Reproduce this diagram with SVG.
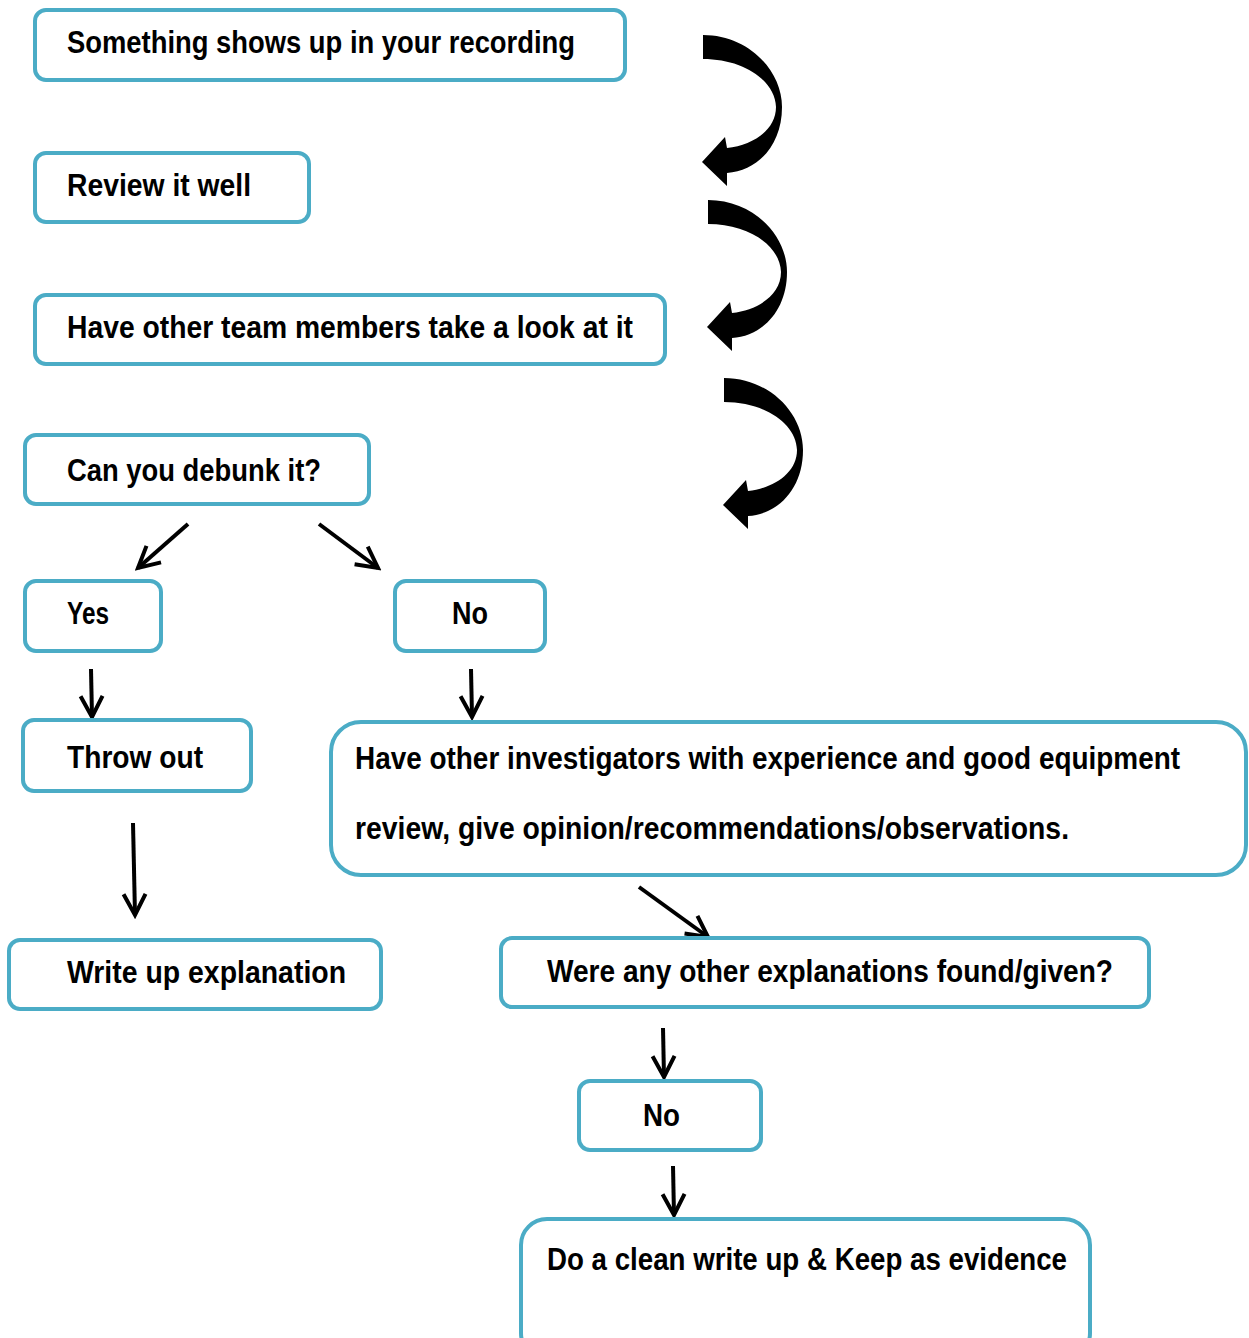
<svg xmlns="http://www.w3.org/2000/svg" width="1249" height="1338" viewBox="0 0 1249 1338">
<style>
.box{fill:#fff;stroke:#4BACC6;stroke-width:4}
.t{font-family:"Liberation Sans Narrow","Liberation Sans",Arial,sans-serif;font-weight:bold;font-size:32px;fill:#000}
.ln{stroke:#000;stroke-width:4;fill:none;marker-end:url(#ah)}
.curve{fill:#000}
</style>
<defs>
<marker id="ah" viewBox="-28 -16 32 32" refX="0" refY="0" markerWidth="32" markerHeight="32" markerUnits="userSpaceOnUse" orient="auto">
<path d="M -21 -11 L 0 0 L -21 11" fill="none" stroke="#000" stroke-width="4"/>
</marker>
<path id="carrow" d="M 0 0 C 45 0 79 35 79 72 C 79 110 55 136 24 138 L 24 151 L -1 127 L 22 102 L 24 113 C 50 110 73 95 73 72 C 72 45 40 24 0 24 Z"/>
</defs>
<rect width="1249" height="1338" fill="#fff"/>

<g id="connectors">
<use href="#carrow" class="curve" x="703" y="35"/>
<use href="#carrow" class="curve" x="708" y="200"/>
<use href="#carrow" class="curve" x="724" y="378"/>
<line class="ln" x1="188" y1="524" x2="138" y2="568"/>
<line class="ln" x1="319" y1="524" x2="378" y2="568"/>
<line class="ln" x1="91" y1="669" x2="92" y2="717"/>
<line class="ln" x1="471" y1="669" x2="472" y2="717"/>
<line class="ln" x1="133" y1="823" x2="135" y2="915"/>
<line class="ln" x1="639" y1="887" x2="708" y2="937"/>
<line class="ln" x1="663" y1="1028" x2="664" y2="1077"/>
<line class="ln" x1="673" y1="1166" x2="674" y2="1215"/>
</g>

<g id="n1"><rect class="box" x="35" y="10" width="590" height="70" rx="11"/>
<text class="t" x="67" y="53" textLength="508" lengthAdjust="spacingAndGlyphs">Something shows up in your recording</text></g>
<g id="n2"><rect class="box" x="35" y="153" width="274" height="69" rx="11"/>
<text class="t" x="67" y="196" textLength="184" lengthAdjust="spacingAndGlyphs">Review it well</text></g>
<g id="n3"><rect class="box" x="35" y="295" width="630" height="69" rx="11"/>
<text class="t" x="67" y="338" textLength="566" lengthAdjust="spacingAndGlyphs">Have other team members take a look at it</text></g>
<g id="n4"><rect class="box" x="25" y="435" width="344" height="69" rx="11"/>
<text class="t" x="67" y="481" textLength="254" lengthAdjust="spacingAndGlyphs">Can you debunk it?</text></g>
<g id="n5"><rect class="box" x="25" y="581" width="136" height="70" rx="11"/>
<text class="t" x="67" y="624" textLength="42" lengthAdjust="spacingAndGlyphs">Yes</text></g>
<g id="n6"><rect class="box" x="395" y="581" width="150" height="70" rx="11"/>
<text class="t" x="452" y="624" textLength="36" lengthAdjust="spacingAndGlyphs">No</text></g>
<g id="n7"><rect class="box" x="23" y="720" width="228" height="71" rx="11"/>
<text class="t" x="67" y="768" textLength="136" lengthAdjust="spacingAndGlyphs">Throw out</text></g>
<g id="n8"><rect class="box" x="331" y="722" width="915" height="153" rx="30"/>
<text class="t" x="355" y="769" textLength="825" lengthAdjust="spacingAndGlyphs">Have other investigators with experience and good equipment</text>
<text class="t" x="355" y="839" textLength="714" lengthAdjust="spacingAndGlyphs">review, give opinion/recommendations/observations.</text></g>
<g id="n9"><rect class="box" x="9" y="940" width="372" height="69" rx="11"/>
<text class="t" x="67" y="983" textLength="279" lengthAdjust="spacingAndGlyphs">Write up explanation</text></g>
<g id="n10"><rect class="box" x="501" y="938" width="648" height="69" rx="11"/>
<text class="t" x="547" y="982" textLength="566" lengthAdjust="spacingAndGlyphs">Were any other explanations found/given?</text></g>
<g id="n11"><rect class="box" x="579" y="1081" width="182" height="69" rx="11"/>
<text class="t" x="643" y="1126" textLength="37" lengthAdjust="spacingAndGlyphs">No</text></g>
<g id="n12"><rect class="box" x="521" y="1219" width="569" height="140" rx="26"/>
<text class="t" x="547" y="1270" textLength="520" lengthAdjust="spacingAndGlyphs">Do a clean write up &amp; Keep as evidence</text></g>
</svg>
